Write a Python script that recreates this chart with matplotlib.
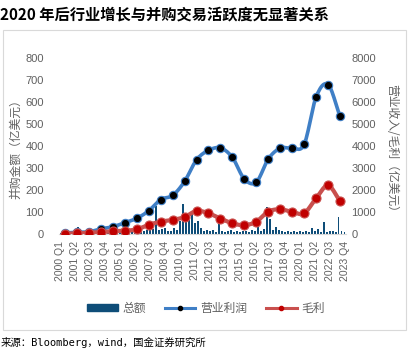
import numpy as np
import matplotlib
matplotlib.use("Agg")
import matplotlib.pyplot as plt
from matplotlib.patches import Patch, Rectangle
from matplotlib.lines import Line2D

plt.rcParams['font.family'] = ['Liberation Sans', 'Noto Sans CJK SC']

# ---------------- data ----------------
years = list(range(2000, 2024))
quarters = [f"{y} Q{q}" for y in years for q in range(1, 5)]

# M&A amount per quarter (亿美元), left axis
ma_amount = [
    3, 5, 4, 6,        # 2000
    5, 8, 30, 6,       # 2001
    7, 5, 8, 10,       # 2002
    6, 9, 12, 8,       # 2003
    10, 8, 12, 15,     # 2004
    9, 12, 10, 14,     # 2005
    12, 15, 10, 18,    # 2006
    14, 20, 16, 22,    # 2007
    128, 18, 22, 28,   # 2008
    12, 15, 25, 20,    # 2009
    60, 134, 86, 72,   # 2010
    90, 50, 60, 25,    # 2011
    15, 20, 12, 18,    # 2012
    10, 65, 14, 8,     # 2013
    12, 18, 10, 14,    # 2014
    8, 12, 15, 10,     # 2015
    18, 12, 40, 15,    # 2016
    22, 122, 68, 20,   # 2017
    32, 18, 14, 10,    # 2018
    12, 8, 15, 10,     # 2019
    12, 9, 14, 8,      # 2020
    25, 12, 22, 10,    # 2021
    55, 8, 12, 15,     # 2022
    10, 75, 12, 8,     # 2023
]

# annual operating profit and gross profit (亿美元), right axis
op_profit = [50, 80, 100, 230, 330, 510, 710, 1050, 1560, 1750, 2380, 3360,
             3790, 3900, 3470, 2490, 2350, 3400, 3890, 3890, 4060, 6210, 6770, 5330]
gross_profit = [20, 25, 60, 90, 120, 150, 210, 415, 560, 640, 770, 1045,
                940, 700, 485, 400, 560, 1015, 1120, 1000, 940, 1620, 2200, 1490]

tick_every = 5
legend_labels = ["总额", "营业利润", "毛利"]
title = "2020 年后行业增长与并购交易活跃度无显著关系"
source = "来源：Bloomberg，wind，国金证券研究所"
left_label = "并购金额（亿美元）"
right_label = "营业收入/毛利（亿美元）"

# ---------------- style ----------------
W, H = 412, 354
bar_color = "#0E4D78"
blue = "#3F7FC6"
red = "#C9504E"
red_marker = "#C00000"
gray = "#606060"


def smooth(x, y, n=12):
    """Catmull-Rom style curve through the points (Excel smoothed line look)."""
    x = np.asarray(x, float)
    y = np.asarray(y, float)
    xs, ys = [], []
    P = np.column_stack([x, y])
    P = np.vstack([P[0] - (P[1] - P[0]), P, P[-1] + (P[-1] - P[-2])])
    for i in range(1, len(P) - 2):
        p0, p1, p2, p3 = P[i - 1], P[i], P[i + 1], P[i + 2]
        t = np.linspace(0, 1, n, endpoint=False)[:, None]
        pts = 0.5 * ((2 * p1) + (-p0 + p2) * t + (2 * p0 - 5 * p1 + 4 * p2 - p3) * t ** 2
                     + (-p0 + 3 * p1 - 3 * p2 + p3) * t ** 3)
        xs.extend(pts[:, 0]); ys.extend(pts[:, 1])
    xs.append(x[-1]); ys.append(y[-1])
    return np.array(xs), np.array(ys)


fig = plt.figure(figsize=(W / 100, H / 100), dpi=100)

# outer chart frame
fig.patches.append(Rectangle((3 / W, 1 - 330 / H), 403 / W, 300 / H,
                             transform=fig.transFigure, fill=False,
                             edgecolor="#D9D9D9", linewidth=0.8))

ax = fig.add_axes([59 / W, 1 - 234 / H, 287 / W, 176.5 / H])
nq = len(quarters)
xq = np.arange(nq)
ax.bar(xq, ma_amount, width=0.65, color=bar_color, zorder=2)
ax.set_xlim(-0.5, nq - 0.5)
ax.set_ylim(0, 800)
ax.set_yticks(range(0, 801, 100))
ax.set_xticks(xq[::tick_every])
ax.set_xticklabels(quarters[::tick_every], rotation=90, fontsize=7.5, color=gray)
ax.tick_params(axis='x', length=0, pad=5)
ax.tick_params(axis='y', length=0, pad=11, labelsize=8, labelcolor=gray)
for s in ["top", "left", "right"]:
    ax.spines[s].set_visible(False)
ax.spines["bottom"].set_color("#D9D9D9")
ax.spines["bottom"].set_linewidth(0.8)
ax.set_ylabel(left_label, fontsize=8.5, color=gray, family=['Noto Sans CJK SC'],
              va='center')
ax.yaxis.set_label_coords((16 - 59) / 287, 0.5)

ax2 = ax.twinx()
ax2.set_ylim(0, 8000)
ax2.set_yticks(range(0, 8001, 1000))
ax2.tick_params(axis='y', length=0, pad=4, labelsize=8, labelcolor=gray)
for s in ["top", "left", "right", "bottom"]:
    ax2.spines[s].set_visible(False)
xl = np.arange(len(years)) * 4 + 1.5
sx, sy = smooth(xl, op_profit)
ax2.plot(sx, sy, color=blue, lw=2.6, solid_capstyle='round', zorder=3)
ax2.plot(xl, op_profit, ls='none', marker='o', ms=6, mfc='black', mec=blue, mew=0.8, zorder=4)
sx, sy = smooth(xl, gross_profit)
ax2.plot(sx, sy, color=red, lw=3, solid_capstyle='round', zorder=5)
ax2.plot(xl, gross_profit, ls='none', marker='o', ms=6.5, mfc=red_marker, mec=red, mew=0.8, zorder=6)
ax2.set_ylabel(right_label, rotation=-90, fontsize=8.5, color=gray,
               family=['Noto Sans CJK SC'], va='center')
ax2.yaxis.set_label_coords((392 - 59) / 287, 0.47)

handles = [Patch(color=bar_color),
           Line2D([], [], color=blue, lw=2.2, marker='o', ms=3, mfc='black', mec='black'),
           Line2D([], [], color=red, lw=2.2, marker='o', ms=3, mfc=red_marker, mec=red_marker)]
fig.legend(handles, legend_labels, loc='center', bbox_to_anchor=(206 / W, 1 - 308 / H),
           ncol=3, frameon=False, labelcolor=gray, handlelength=2.6,
           handleheight=0.5, columnspacing=1.6, handletextpad=0.4,
           prop={'family': ['Noto Sans CJK SC'], 'size': 8.5})

fig.text(0 / W, 1 - 15 / H, title, fontsize=11, fontweight='bold', style='italic',
         va='center', ha='left', color='black', family=['Noto Sans CJK SC'])
fig.text(1 / W, 1 - 343 / H, source, fontsize=7.5, va='center', ha='left',
         color='black', family=['DejaVu Sans Mono', 'Noto Sans CJK SC'])

fig.savefig("out.png", dpi=100)
